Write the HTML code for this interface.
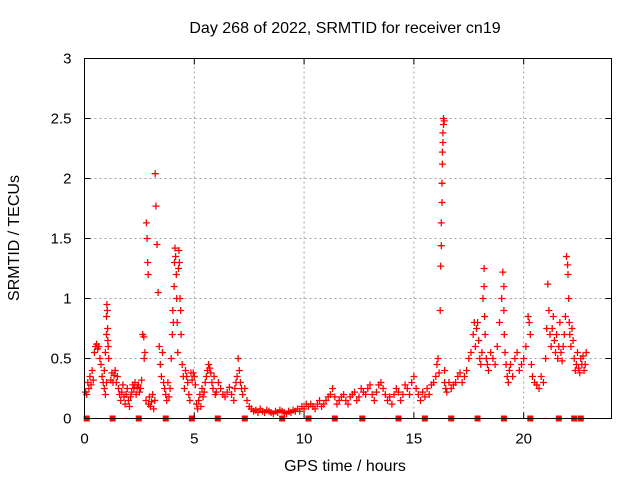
<!DOCTYPE html>
<html><head><meta charset="utf-8"><style>
body{margin:0;background:#fff;}
svg text{font-family:"Liberation Sans",sans-serif;font-size:15px;fill:#000;}
svg text.lbl{font-size:16px;}
</style></head><body>
<svg id="chart" width="640" height="480" xmlns="http://www.w3.org/2000/svg">
<rect width="640" height="480" fill="#fff"/>
<text class="lbl" x="345" y="33" text-anchor="middle">Day 268 of 2022, SRMTID for receiver cn19</text>
<text class="lbl" x="345" y="471" text-anchor="middle">GPS time / hours</text>
<text class="lbl" transform="translate(19,238) rotate(-90)" text-anchor="middle">SRMTID / TECUs</text>
<g id="grid"></g>
<g id="marks"></g>
<rect x="84.5" y="58.5" width="527" height="360" fill="none" stroke="#000" stroke-width="1"/>
<g id="ticks"></g>
</svg>
<script>
const xTicks=[0,5,10,15,20];
const yTicks=[0,0.5,1,1.5,2,2.5,3];
const yTickLabels=["0","0.5","1","1.5","2","2.5","3"];
const gapHours=[0.1,1.28,2.47,3.7,4.89,6.07,7.3,9.0,10.2,11.4,12.65,14.3,15.5,16.7,17.9,19.1,20.3,21.6,22.3,22.6];
const hours=[
0.05,0.1,0.15,0.2,0.25,0.3,0.35,0.4,0.45,0.5,
0.55,0.6,0.65,0.7,0.75,0.8,0.85,0.9,0.95,1.0,
1.0,1.02,1.04,1.05,1.06,1.08,1.1,0.9,0.95,1.0,
1.2,1.25,1.3,1.35,1.4,1.45,1.5,1.55,1.6,1.65,
1.7,1.75,1.8,1.85,1.9,1.95,2.0,2.05,2.1,2.15,
2.2,2.25,2.3,2.35,2.4,2.45,2.5,2.55,2.6,2.65,
2.7,2.72,2.75,2.8,2.82,2.85,2.88,2.9,2.92,2.95,
3.0,3.05,3.1,3.15,3.2,3.22,3.25,3.3,3.35,3.4,
3.45,3.5,3.55,3.6,3.65,3.7,3.75,3.8,3.85,3.9,
3.95,4.0,4.02,4.05,4.08,4.1,4.12,4.15,4.18,4.2,
4.22,4.25,4.28,4.3,4.32,4.35,4.38,4.4,4.45,4.5,
4.55,4.6,4.65,4.7,4.75,4.8,4.85,4.9,4.95,5.0,
5.05,5.1,5.15,5.2,5.25,5.3,5.35,5.4,5.45,5.5,
5.55,5.6,5.65,5.7,5.75,5.8,5.85,5.9,5.95,6.0,
6.1,6.2,6.3,6.4,6.5,6.6,6.7,6.8,6.85,6.9,
6.95,7.0,7.05,7.1,7.15,7.2,7.3,7.4,7.5,7.6,
7.7,7.8,7.9,8.0,8.1,8.2,8.3,8.4,8.5,8.6,
8.7,8.8,8.9,9.0,9.1,9.2,9.3,9.4,9.5,9.6,
9.7,9.8,9.9,10.0,10.1,10.2,10.3,10.4,10.5,10.6,
10.7,10.8,10.9,11.0,11.1,11.2,11.3,11.4,11.5,11.6,
11.7,11.8,11.9,12.0,12.1,12.2,12.3,12.4,12.5,12.6,
12.7,12.8,12.9,13.0,13.1,13.2,13.3,13.4,13.5,13.6,
13.7,13.8,13.9,14.0,14.1,14.2,14.3,14.4,14.5,14.6,
14.7,14.8,14.9,15.0,15.1,15.2,15.3,15.4,15.5,15.6,
15.7,15.8,15.9,16.0,16.05,16.1,16.15,
16.2,16.22,16.25,16.25,16.28,16.28,16.3,16.3,16.32,16.32,
16.35,16.35,16.38,16.4,16.4,16.45,
16.5,16.6,16.7,16.8,16.9,17.0,17.1,17.2,17.3,17.4,
17.5,17.6,17.7,17.75,17.8,17.85,17.9,17.95,18.0,18.05,
18.1,18.15,18.2,18.2,18.22,18.25,18.3,18.35,18.4,18.5,
18.6,18.7,18.8,18.9,19.0,19.05,19.1,19.1,19.12,19.15,
19.2,19.25,19.3,19.35,19.4,19.5,19.6,19.7,19.8,19.9,
20.0,20.1,20.2,20.25,20.3,20.35,20.4,20.5,20.6,20.7,
20.8,20.9,21.0,21.05,21.1,21.15,21.2,21.25,21.3,21.35,
21.4,21.45,21.5,21.55,21.6,21.65,21.7,21.75,21.8,21.85,
21.9,21.95,22.0,22.02,22.05,22.08,22.1,22.15,22.2,22.25,
22.3,22.35,22.4,22.45,22.5,22.55,22.6,22.65,22.7,22.75,22.8,22.85];
const values=[
0.22,0.2,0.3,0.25,0.35,0.28,0.4,0.32,0.55,0.6,
0.62,0.58,0.6,0.5,0.45,0.35,0.3,0.25,0.55,0.7,
0.85,0.95,0.9,0.75,0.65,0.6,0.5,0.4,0.2,0.3,
0.32,0.38,0.3,0.36,0.4,0.3,0.35,0.25,0.2,0.15,
0.22,0.28,0.18,0.12,0.2,0.25,0.15,0.1,0.18,0.22,
0.28,0.25,0.3,0.2,0.26,0.28,0.22,0.25,0.32,0.7,
0.68,0.5,0.55,0.15,1.63,1.5,1.3,1.2,0.12,0.18,
0.1,0.14,0.2,0.08,0.15,2.04,1.77,1.45,1.05,0.6,
0.45,0.35,0.55,0.3,0.25,0.2,0.15,0.3,0.18,0.25,
0.5,0.7,0.9,0.8,1.1,1.3,1.42,1.35,1.2,1.0,
0.8,0.55,1.25,1.4,1.3,1.0,0.9,0.7,0.45,0.35,
0.25,0.4,0.35,0.3,0.2,0.15,0.38,0.32,0.38,0.35,
0.28,0.12,0.08,0.15,0.2,0.1,0.25,0.18,0.22,0.3,
0.35,0.4,0.45,0.42,0.38,0.3,0.25,0.35,0.2,0.22,
0.3,0.25,0.2,0.18,0.22,0.26,0.2,0.15,0.25,0.3,
0.35,0.5,0.4,0.3,0.25,0.2,0.25,0.15,0.1,0.08,
0.06,0.07,0.05,0.08,0.06,0.05,0.07,0.06,0.05,0.04,
0.06,0.05,0.07,0.06,0.05,0.04,0.06,0.05,0.07,0.06,
0.08,0.06,0.1,0.08,0.12,0.1,0.12,0.1,0.08,0.12,
0.15,0.1,0.12,0.15,0.18,0.2,0.25,0.18,0.12,0.15,
0.18,0.2,0.15,0.12,0.18,0.2,0.22,0.15,0.18,0.25,
0.22,0.2,0.25,0.28,0.2,0.15,0.22,0.28,0.3,0.25,
0.2,0.15,0.18,0.12,0.2,0.25,0.22,0.15,0.2,0.28,
0.25,0.2,0.3,0.35,0.25,0.2,0.15,0.22,0.18,0.25,
0.2,0.28,0.3,0.35,0.45,0.5,0.38,
0.9,1.27,1.44,1.63,1.8,1.96,2.12,2.22,2.3,2.38,
2.45,2.5,2.48,0.4,0.3,0.25,
0.22,0.3,0.25,0.28,0.3,0.35,0.38,0.3,0.35,0.4,
0.5,0.55,0.7,0.8,0.6,0.75,0.8,0.65,0.5,0.45,
0.55,1.0,1.25,1.1,0.85,0.7,0.5,0.45,0.4,0.55,
0.5,0.45,0.6,0.8,1.0,1.22,1.1,0.9,0.7,0.55,
0.45,0.35,0.3,0.4,0.45,0.35,0.5,0.55,0.4,0.45,
0.5,0.6,0.85,0.8,0.7,0.45,0.35,0.3,0.28,0.25,
0.35,0.3,0.5,0.75,1.12,0.9,0.7,0.6,0.75,0.85,
0.65,0.55,0.7,0.5,0.6,0.8,0.55,0.48,0.6,0.7,
0.85,1.35,1.28,1.2,1.0,0.8,0.7,0.6,0.75,0.65,
0.5,0.4,0.45,0.55,0.42,0.38,0.5,0.45,0.52,0.4,0.45,0.55];
const X0=84.5,X1=611.5,Y0=418.5,Y1=58.5;
const xs=h=>X0+(h/24)*(X1-X0);
const ys=v=>Y0-(v/3)*(Y0-Y1);
const NS="http://www.w3.org/2000/svg";
const grid=document.getElementById('grid'),ticks=document.getElementById('ticks'),marks=document.getElementById('marks');
function mk(tag,attrs,parent){const e=document.createElementNS(NS,tag);for(const k in attrs)e.setAttribute(k,attrs[k]);parent.appendChild(e);return e;}
xTicks.forEach(t=>{
  const x=xs(t);
  if(t>0){const g=mk('line',{x1:x,x2:x,y1:Y0,y2:Y1,stroke:'#a0a0a0','stroke-dasharray':'2,3'},grid);
  
  }
  const l=mk('path',{d:`M${x} ${Y0}v-6M${x} ${Y1}v6`,stroke:'#000'},ticks);
  
  
  const tx=mk('text',{x:x,y:Y0+25,'text-anchor':'middle'},ticks);tx.textContent=t;
  
  
});
yTicks.forEach((t,i)=>{
  const y=ys(t);
  if(t>0&&t<3){const g=mk('line',{x1:X0,x2:X1,y1:y,y2:y,stroke:'#a0a0a0','stroke-dasharray':'2,3'},grid);
  
  }
  const l=mk('path',{d:`M${X0} ${y}h6M${X1} ${y}h-6`,stroke:'#000'},ticks);
  
  
  const tx=mk('text',{x:X0-13,y:y+5,'text-anchor':'end'},ticks);tx.textContent=yTickLabels[i];
  
  
});
let d='';
const n=Math.min(hours.length,values.length);
for(let i=0;i<n;i++){const x=xs(hours[i]),y=ys(values[i]);d+=`M${(x-3.5).toFixed(1)} ${y.toFixed(1)}h7M${x.toFixed(1)} ${(y-3.5).toFixed(1)}v7`;}
const p=mk('path',{d:d,stroke:'#ff0000','stroke-width':1.3,fill:'none'},marks);


gapHours.forEach(h=>{
  const r=mk('rect',{x:xs(h)-3,y:Y0-3,width:6,height:6,fill:'#ff0000'},marks);
  
  
});
</script>
</body></html>
